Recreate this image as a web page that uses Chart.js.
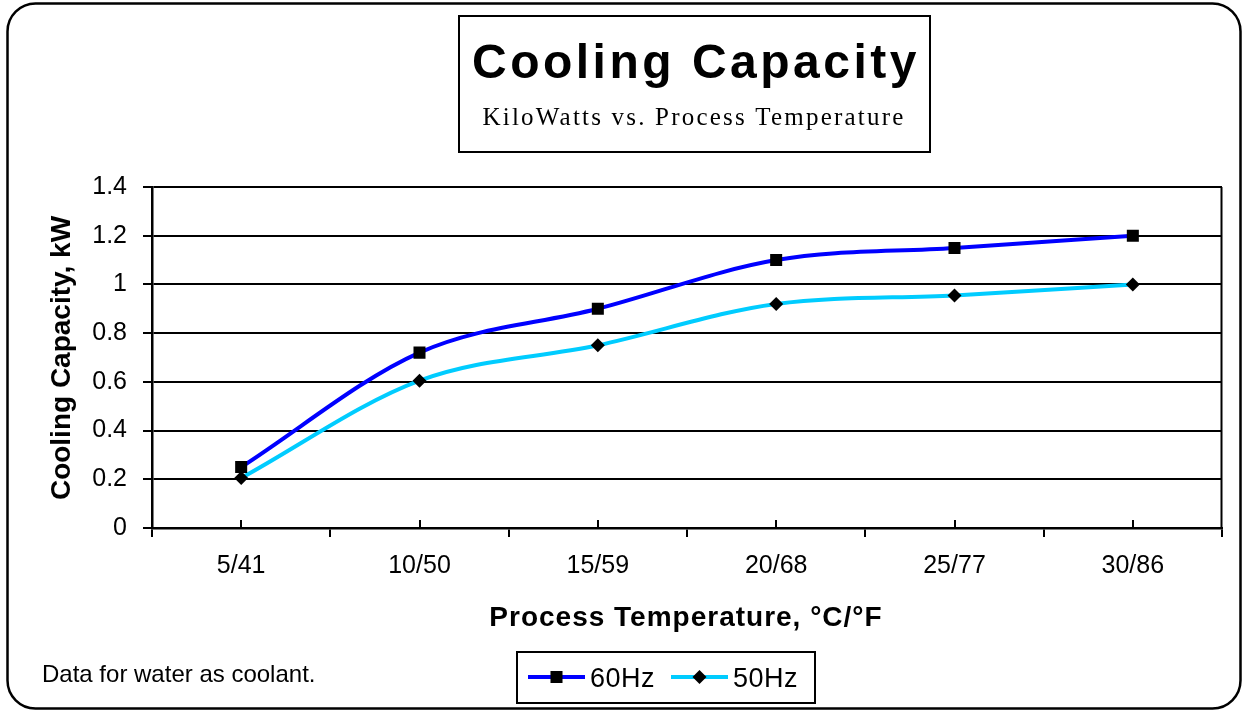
<!DOCTYPE html>
<html><head><meta charset="utf-8">
<script src="https://cdn.jsdelivr.net/npm/chart.js@4"></script>
<style>html,body{margin:0;padding:0;background:#fff}canvas{display:block}</style>
</head><body>
<canvas id="c" width="1246" height="711"></canvas>
<script>
const categories = ['5/41', '10/50', '15/59', '20/68', '25/77', '30/86'];
const seriesNames = ['60Hz', '50Hz'];
const values60Hz = [0.25, 0.72, 0.90, 1.10, 1.15, 1.20];
const values50Hz = [0.205, 0.605, 0.75, 0.92, 0.955, 1.00];
const yTicks = [0, 0.2, 0.4, 0.6, 0.8, 1, 1.2, 1.4];
const titleText = 'Cooling Capacity';
const subtitleText = 'KiloWatts vs. Process Temperature';
const xTitleText = 'Process Temperature, °C/°F';
const yTitleText = 'Cooling Capacity, kW';
const noteText = 'Data for water as coolant.';

const SANS = '"Liberation Sans", Arial, sans-serif';
const SERIF = '"Liberation Serif", "Times New Roman", serif';

function marker(ctx, style, x, y, r) {
  ctx.fillStyle = '#000';
  ctx.beginPath();
  if (style === 'rect') {
    const s = Math.SQRT1_2 * r;
    ctx.rect(x - s, y - s, 2 * s, 2 * s);
  } else {
    ctx.moveTo(x - r, y); ctx.lineTo(x, y - r); ctx.lineTo(x + r, y); ctx.lineTo(x, y + r); ctx.closePath();
  }
  ctx.fill();
}

const deco = {
  id: 'deco',
  afterDraw(chart) {
    const ctx = chart.ctx, area = chart.chartArea, xs = chart.scales.x;
    ctx.save();
    ctx.strokeStyle = '#000';
    ctx.lineWidth = 2;
    // right border of plot
    ctx.beginPath(); ctx.moveTo(area.right - 0.5, area.top); ctx.lineTo(area.right - 0.5, area.bottom); ctx.stroke();
    // small inner ticks at category centres
    categories.forEach((c, i) => {
      const px = Math.round(xs.getPixelForValue(i));
      ctx.beginPath(); ctx.moveTo(px, area.bottom); ctx.lineTo(px, area.bottom - 8); ctx.stroke();
    });
    // outer rounded frame
    ctx.lineWidth = 2.5;
    ctx.beginPath(); ctx.roundRect(7.5, 3.5, 1233, 705, 28); ctx.stroke();
    // title box
    ctx.lineWidth = 2;
    ctx.strokeRect(459, 16, 471, 136);
    ctx.fillStyle = '#000';
    ctx.textAlign = 'center';
    ctx.textBaseline = 'alphabetic';
    ctx.font = 'bold 48px ' + SANS;
    ctx.letterSpacing = '3.5px';
    ctx.fillText(titleText, 696, 78);
    ctx.font = '25px ' + SERIF;
    ctx.letterSpacing = '2.2px';
    ctx.fillText(subtitleText, 694, 125);
    // axis titles
    ctx.font = 'bold 28px ' + SANS;
    ctx.letterSpacing = '1px';
    ctx.fillText(xTitleText, 686, 626);
    ctx.save();
    ctx.translate(70, 358);
    ctx.rotate(-Math.PI / 2);
    ctx.letterSpacing = '0px';
    ctx.fillText(yTitleText, 0, 0);
    ctx.restore();
    // note
    ctx.textAlign = 'left';
    ctx.font = '24px ' + SANS;
    ctx.letterSpacing = '0px';
    ctx.fillText(noteText, 42, 682);
    // legend
    ctx.lineWidth = 2;
    ctx.strokeRect(517, 652, 298, 51);
    const items = [{x: 528}, {x: 671}];
    chart.data.datasets.forEach((ds, i) => {
      const lx = items[i].x, ly = 677;
      ctx.strokeStyle = ds.borderColor;
      ctx.lineWidth = 4;
      ctx.beginPath(); ctx.moveTo(lx, ly); ctx.lineTo(lx + 57, ly); ctx.stroke();
      marker(ctx, ds.pointStyle, lx + 28.5, ly, ds.pointRadius);
      ctx.fillStyle = '#000';
      ctx.font = '27px ' + SANS;
      ctx.letterSpacing = '0.5px';
      ctx.fillText(ds.label, lx + 62, 687);
    });
    ctx.restore();
  }
};

new Chart(document.getElementById('c'), {
  type: 'line',
  data: {
    labels: categories,
    datasets: [
      { label: seriesNames[0], data: values60Hz, borderColor: '#0000FF', borderWidth: 4,
        pointStyle: 'rect', pointRadius: 8.5, pointBackgroundColor: '#000', pointBorderColor: '#000', pointBorderWidth: 0,
        cubicInterpolationMode: 'monotone', fill: false },
      { label: seriesNames[1], data: values50Hz, borderColor: '#00CCFF', borderWidth: 4,
        pointStyle: 'rectRot', pointRadius: 7, pointBackgroundColor: '#000', pointBorderColor: '#000', pointBorderWidth: 0,
        cubicInterpolationMode: 'monotone', fill: false }
    ]
  },
  options: {
    responsive: false,
    animation: false,
    devicePixelRatio: 1,
    layout: { padding: { left: 0, top: 187, right: 24, bottom: 123 } },
    plugins: { legend: { display: false }, title: { display: false }, tooltip: { enabled: false } },
    scales: {
      x: {
        type: 'category',
        offset: true,
        afterFit(s) { s.height = 60; },
        grid: { offset: true, drawOnChartArea: false, drawTicks: true, tickLength: 9, color: '#000', lineWidth: 2 },
        border: { display: true, color: '#000', width: 2.5 },
        ticks: { color: '#000', font: { family: SANS, size: 25 }, padding: 14, maxRotation: 0 }
      },
      y: {
        min: 0, max: 1.4,
        afterFit(s) { s.width = 152; },
        afterBuildTicks(s) { s.ticks = yTicks.map(v => ({ value: v })); },
        grid: { color: '#000', lineWidth: 2, tickLength: 9, drawTicks: true },
        border: { display: true, color: '#000', width: 2.5 },
        ticks: { color: '#000', font: { family: SANS, size: 25 }, padding: 16,
                 callback: (v) => String(Math.round(v * 10) / 10) }
      }
    }
  },
  plugins: [deco]
});
</script>
</body></html>
